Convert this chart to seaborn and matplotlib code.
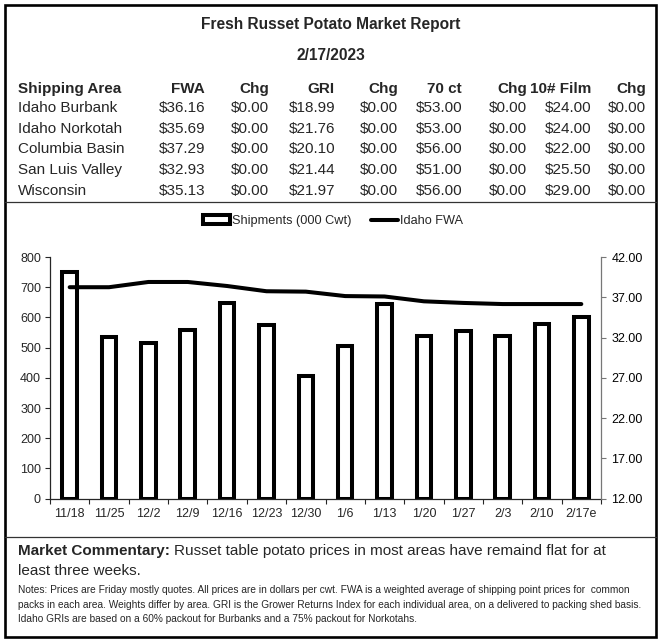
import numpy as np
import pandas as pd
import matplotlib.pyplot as plt
from matplotlib.patches import Rectangle
from matplotlib.lines import Line2D
from matplotlib.ticker import FormatStrFormatter
import seaborn as sns

# Price table (dollars per cwt)
areas = ['Idaho Burbank', 'Idaho Norkotah', 'Columbia Basin', 'San Luis Valley', 'Wisconsin']
fwa = [36.16, 35.69, 37.29, 32.93, 35.13]
fwa_chg = [0.00, 0.00, 0.00, 0.00, 0.00]
gri = [18.99, 21.76, 20.10, 21.44, 21.97]
gri_chg = [0.00, 0.00, 0.00, 0.00, 0.00]
ct70 = [53.00, 53.00, 56.00, 51.00, 56.00]
ct70_chg = [0.00, 0.00, 0.00, 0.00, 0.00]
film = [24.00, 24.00, 22.00, 25.50, 29.00]
film_chg = [0.00, 0.00, 0.00, 0.00, 0.00]
col_names = ['FWA', 'Chg', 'GRI', 'Chg', '70 ct', 'Chg', '10# Film', 'Chg']

# Weekly chart data
weeks = ['11/18', '11/25', '12/2', '12/9', '12/16', '12/23', '12/30',
         '1/6', '1/13', '1/20', '1/27', '2/3', '2/10', '2/17e']
shipments = [750, 535, 517, 557, 648, 576, 405, 505, 645, 537, 555, 539, 579, 601]
idaho_fwa = [38.25, 38.25, 38.9, 38.9, 38.4, 37.75, 37.7, 37.15, 37.1, 36.5,
             36.3, 36.16, 36.16, 36.16]

commentary = 'Russet table potato prices in most areas have remaind flat for at'
commentary2 = 'least three weeks.'
notes = ['Notes: Prices are Friday mostly quotes. All prices are in dollars per cwt. FWA is a weighted average of shipping point prices for  common',
         'packs in each area. Weights differ by area. GRI is the Grower Returns Index for each individual area, on a delivered to packing shed basis.',
         'Idaho GRIs are based on a 60% packout for Burbanks and a 75% packout for Norkotahs.']

sns.set_style('ticks')
plt.rcParams['font.family'] = ['Liberation Sans', 'DejaVu Sans']

W, H = 661, 641
fig = plt.figure(figsize=(W / 100, H / 100), dpi=100)

def fx(x):
    return x / W

def fy(y):
    return 1 - y / H

# outer frame + section lines
fig.add_artist(Rectangle((fx(4.5), fy(637)), (656 - 4.5) / W, (637 - 4.5) / H,
                         transform=fig.transFigure, fill=False, lw=1.9, ec='black'))
for yy in [202, 537]:
    fig.add_artist(Line2D([fx(5), fx(656)], [fy(yy), fy(yy)], lw=0.9, color='#333333'))

# header
fig.text(0.5, fy(25), 'Fresh Russet Potato Market Report', ha='center', va='center',
         fontsize=11.2, fontweight='bold')
fig.text(0.5, fy(55), '2/17/2023', ha='center', va='center', fontsize=11.2, fontweight='bold')

# table
col_right = [205, 269, 335, 398, 462, 527, 591, 646]
fig.text(fx(18), fy(89), 'Shipping Area', ha='left', va='center', fontsize=11, fontweight='bold')
for j, name in enumerate(col_names):
    fig.text(fx(col_right[j]), fy(89), name, ha='right', va='center', fontsize=11, fontweight='bold')

table = pd.DataFrame({'FWA': fwa, 'FWA Chg': fwa_chg, 'GRI': gri, 'GRI Chg': gri_chg,
                      '70 ct': ct70, '70 ct Chg': ct70_chg, 'Film': film, 'Film Chg': film_chg},
                     index=areas)
for i, area in enumerate(table.index):
    y = fy(108 + 20.7 * i)
    fig.text(fx(18), y, area, ha='left', va='center', fontsize=11)
    for j, v in enumerate(table.loc[area].values):
        fig.text(fx(col_right[j]), y, '$%.2f' % v, ha='right', va='center', fontsize=11)

# chart
df = pd.DataFrame({'week': weeks, 'shipments': shipments, 'fwa': idaho_fwa})
ax = fig.add_axes([fx(50), fy(498.7), (601 - 50) / W, (498.7 - 257) / H])
sns.barplot(data=df, x='week', y='shipments', ax=ax, color='white', edgecolor='black',
            linewidth=2.9, width=0.37, saturation=1)
ax.set_ylim(0, 800)
ax.set_yticks(range(0, 801, 100))
ax.set_xlim(-0.5, len(weeks) - 0.5)
ax.set_xlabel('')
ax.set_ylabel('')

ax2 = ax.twinx()
sns.lineplot(x=np.arange(len(weeks)), y=df['fwa'], ax=ax2, color='black', lw=2.9)
ax2.set_ylim(12, 42)
ax2.set_yticks(np.arange(12, 43, 5))
ax2.yaxis.set_major_formatter(FormatStrFormatter('%.2f'))
ax2.set_ylabel('')

for s in ['top', 'right']:
    ax.spines[s].set_visible(False)
for s in ['top', 'left', 'bottom']:
    ax2.spines[s].set_visible(False)
ax.spines['left'].set_linewidth(0.9)
ax.spines['bottom'].set_linewidth(0.9)
ax2.spines['right'].set_color('#777777')
ax2.spines['right'].set_linewidth(0.9)

ax.tick_params(axis='y', direction='out', length=3.5, width=0.8, labelsize=9, pad=3)
ax2.tick_params(axis='y', direction='out', length=3.5, width=0.8, labelsize=9, pad=4, colors='black')
ax2.tick_params(axis='y', color='#777777')
ax.set_xticks(np.arange(-0.5, len(weeks), 1), minor=True)
ax.tick_params(axis='x', which='major', length=0, labelsize=9, pad=7)
ax.tick_params(axis='x', which='minor', direction='out', length=3.5, width=0.8)

handles = [Rectangle((0, 0), 1, 1, fc='white', ec='black', lw=2.9),
           Line2D([0], [0], color='black', lw=2.9)]
fig.legend(handles, ['Shipments (000 Cwt)', 'Idaho FWA'], loc='center',
           bbox_to_anchor=(fx(333), fy(221)), ncol=2, frameon=False, fontsize=9.2,
           handlelength=2.1, handletextpad=0.15, columnspacing=1.5)

# commentary
t1 = fig.text(fx(18), fy(551), 'Market Commentary:', ha='left', va='center',
              fontsize=11, fontweight='bold')
bb = t1.get_window_extent(fig.canvas.get_renderer())
fig.text((bb.x1 + 4) / W, fy(551), commentary, ha='left', va='center', fontsize=11)
fig.text(fx(18), fy(571), commentary2, ha='left', va='center', fontsize=11)
for k, line in enumerate(notes):
    fig.text(fx(18), fy(590 + 14.5 * k), line, ha='left', va='center', fontsize=7.3)

fig.savefig('out.png', dpi=100)
